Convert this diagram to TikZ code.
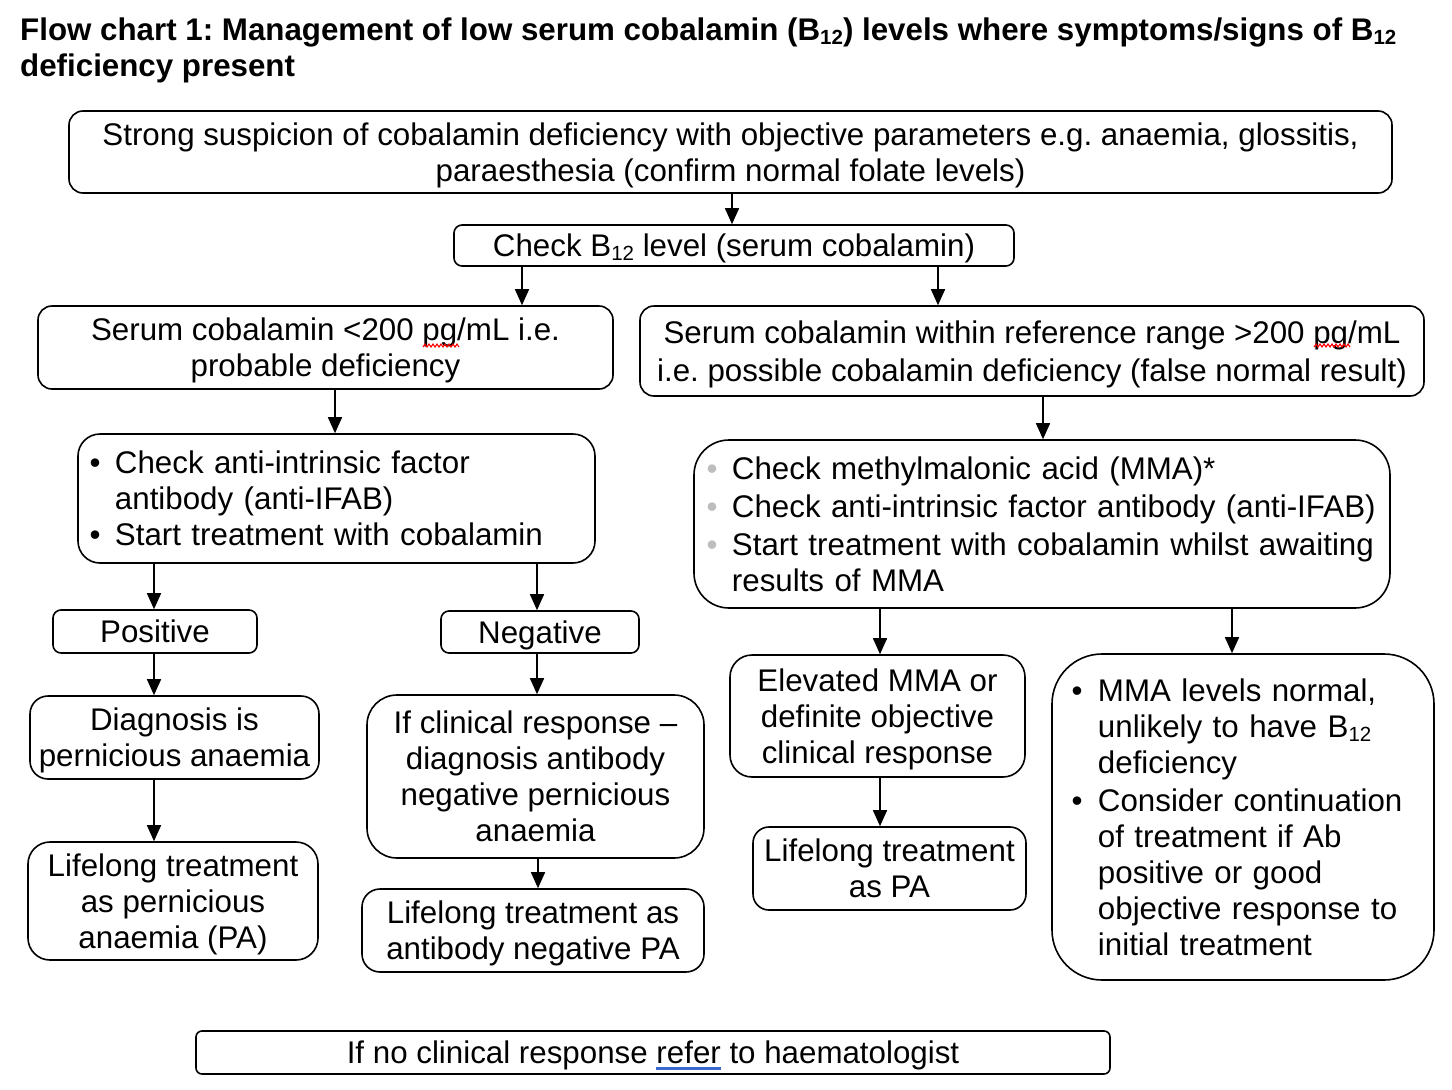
\documentclass[tikz,border=0pt]{standalone}
\usepackage{fontspec}
\setmainfont{Liberation Sans}
\usetikzlibrary{arrows.meta}
\definecolor{linkblue}{HTML}{3A68CF}
\definecolor{bulgrey}{HTML}{BDBDBD}
\newcommand\fs{\fontsize{31.3}{36}\selectfont\frenchspacing\setbox\strutbox\hbox{\vrule height29.2pt depth6.8pt width0pt}}
\newcommand\bsub[1]{\raisebox{-0.13em}{\fontsize{20.5}{20.5}\selectfont #1}}
\newcommand\blueul[1]{\setbox0\hbox{#1}\rlap{\textcolor{linkblue}{\rule[-6pt]{\wd0}{2.5pt}}}\box0\relax}
\newcommand\gb{\textcolor{bulgrey}{•}}
\tikzset{
  basebox/.style={draw, line width=1.6pt, inner sep=0pt, font=\fs},
  box/.style={basebox, align=center},
  lbox/.style={basebox, align=left},
  arr/.style={line width=1.6pt, -{Triangle[length=16pt,width=14pt]}},
  squig/.style={red, line width=1.1pt},
}
\begin{document}
\begin{tikzpicture}[x=1pt,y=-1pt]
\fill[white] (0,0) rectangle (1452,1090);
\useasboundingbox (0,0) rectangle (1452,1090);

\node[anchor=north west, inner sep=0pt, align=left, font=\fs\bfseries] (title) at (20,18)
  {Flow chart 1: Management of low serum cobalamin (B\bsub{12}) levels where symptoms/signs of B\bsub{12}\\deficiency present};

\node[box, rounded corners=14pt, minimum width=1323pt, minimum height=82pt] (b1) at (730.5,152)
  {\strut Strong suspicion of cobalamin deficiency with objective parameters e.g. anaemia, glossitis,\\paraesthesia (confirm normal folate levels)\strut};
\node[box, rounded corners=8pt, minimum width=560pt, minimum height=41pt] (b2) at (734,245.5)
  {\strut Check B\bsub{12} level (serum cobalamin)\strut};
\node[box, rounded corners=14pt, minimum width=575pt, minimum height=83pt] (b3) at (325.5,347.5)
  {\strut Serum cobalamin <200 pg/mL i.e.\\probable deficiency\strut};
\node[box, rounded corners=14pt, minimum width=784pt, minimum height=90pt] (b4) at (1032,351)
  {\strut Serum cobalamin within reference range >200 pg/mL\\[2pt]i.e. possible cobalamin deficiency (false normal result)\strut};

\node[lbox, rounded corners=22pt, minimum width=517pt, minimum height=129pt, text width=494pt, inner xsep=11.5pt] (b5) at (336.5,498.5)
  {\noindent\begin{tabular}{@{}l@{\hspace{14.5pt}}l@{}}
   • & Check anti-intrinsic factor\\
     & antibody (anti-IFAB)\\
   • & Start treatment with cobalamin
   \end{tabular}};
\node[lbox, rounded corners=35pt, minimum width=696pt, minimum height=168pt, text width=671pt, inner xsep=12.5pt] (b6) at (1042,524)
  {\noindent\begin{tabular}{@{}l@{\hspace{14.5pt}}l@{}}
   \gb & Check methylmalonic acid (MMA)*\\[2pt]
   \gb & Check anti-intrinsic factor antibody (anti-IFAB)\\[2pt]
   \gb & Start treatment with cobalamin whilst awaiting\\
       & results of MMA
   \end{tabular}};

\node[box, rounded corners=8pt, minimum width=204pt, minimum height=43pt] (pos) at (155,631.5) {\strut Positive\strut};
\node[box, rounded corners=8pt, minimum width=198pt, minimum height=42pt] (neg) at (540,632) {\strut Negative\strut};

\node[box, rounded corners=18pt, minimum width=289pt, minimum height=83pt] (diag) at (174.5,737.5)
  {\strut Diagnosis is\\pernicious anaemia\strut};
\node[box, rounded corners=22pt, minimum width=290pt, minimum height=118pt] (ll1) at (173,901)
  {\strut Lifelong treatment\\as pernicious\\anaemia (PA)\strut};
\node[box, rounded corners=30pt, minimum width=337pt, minimum height=163pt] (ic) at (535.5,776.5)
  {\strut If clinical response –\\diagnosis antibody\\negative pernicious\\anaemia\strut};
\node[box, rounded corners=18pt, minimum width=342pt, minimum height=83pt] (ll2) at (533,930.5)
  {\strut Lifelong treatment as\\antibody negative PA\strut};
\node[box, rounded corners=22pt, minimum width=295pt, minimum height=122pt] (elev) at (877.5,716)
  {\strut Elevated MMA or\\definite objective\\clinical response\strut};
\node[box, rounded corners=16pt, minimum width=273pt, minimum height=83pt] (ll3) at (889.5,868.5)
  {\strut Lifelong treatment\\as PA\strut};
\node[lbox, rounded corners=50pt, minimum width=382pt, minimum height=326pt, text width=343pt, inner xsep=19.5pt] (mma) at (1243,817)
  {\noindent\begin{tabular}{@{}l@{\hspace{15.5pt}}l@{}}
   • & MMA levels normal,\\
     & unlikely to have B\bsub{12}\\
     & deficiency\\[2pt]
   • & Consider continuation\\
     & of treatment if Ab\\
     & positive or good\\
     & objective response to\\
     & initial treatment
   \end{tabular}};

\node[box, rounded corners=6pt, minimum width=914pt, minimum height=43pt] (bot) at (653,1052.5)
  {\strut If no clinical response \blueul{refer} to haematologist\strut};

% connectors
\draw[arr] (732,0 |- b1.south) -- (732,0 |- b2.north);
\draw[arr] (522,0 |- b2.south) -- (522,0 |- b3.north);
\draw[arr] (938,0 |- b2.south) -- (938,0 |- b4.north);
\draw[arr] (335,0 |- b3.south) -- (335,0 |- b5.north);
\draw[arr] (1043,0 |- b4.south) -- (1043,0 |- b6.north);
\draw[arr] (154,0 |- b5.south) -- (154,0 |- pos.north);
\draw[arr] (537,0 |- b5.south) -- (537,0 |- neg.north);
\draw[arr] (154,0 |- pos.south) -- (154,0 |- diag.north);
\draw[arr] (154,0 |- diag.south) -- (154,0 |- ll1.north);
\draw[arr] (537,0 |- neg.south) -- (537,0 |- ic.north);
\draw[arr] (538,0 |- ic.south) -- (538,0 |- ll2.north);
\draw[arr] (880,0 |- b6.south) -- (880,0 |- elev.north);
\draw[arr] (1232,0 |- b6.south) -- (1232,0 |- mma.north);
\draw[arr] (880,0 |- elev.south) -- (880,0 |- ll3.north);

% spell-check squiggles
\draw[squig] (423,347) \foreach \k in {1,...,9} { -- ++(2,-3) -- ++(2,3) };
\draw[squig] (1314,347) \foreach \k in {1,...,9} { -- ++(2,-3) -- ++(2,3) };
\end{tikzpicture}
\end{document}
